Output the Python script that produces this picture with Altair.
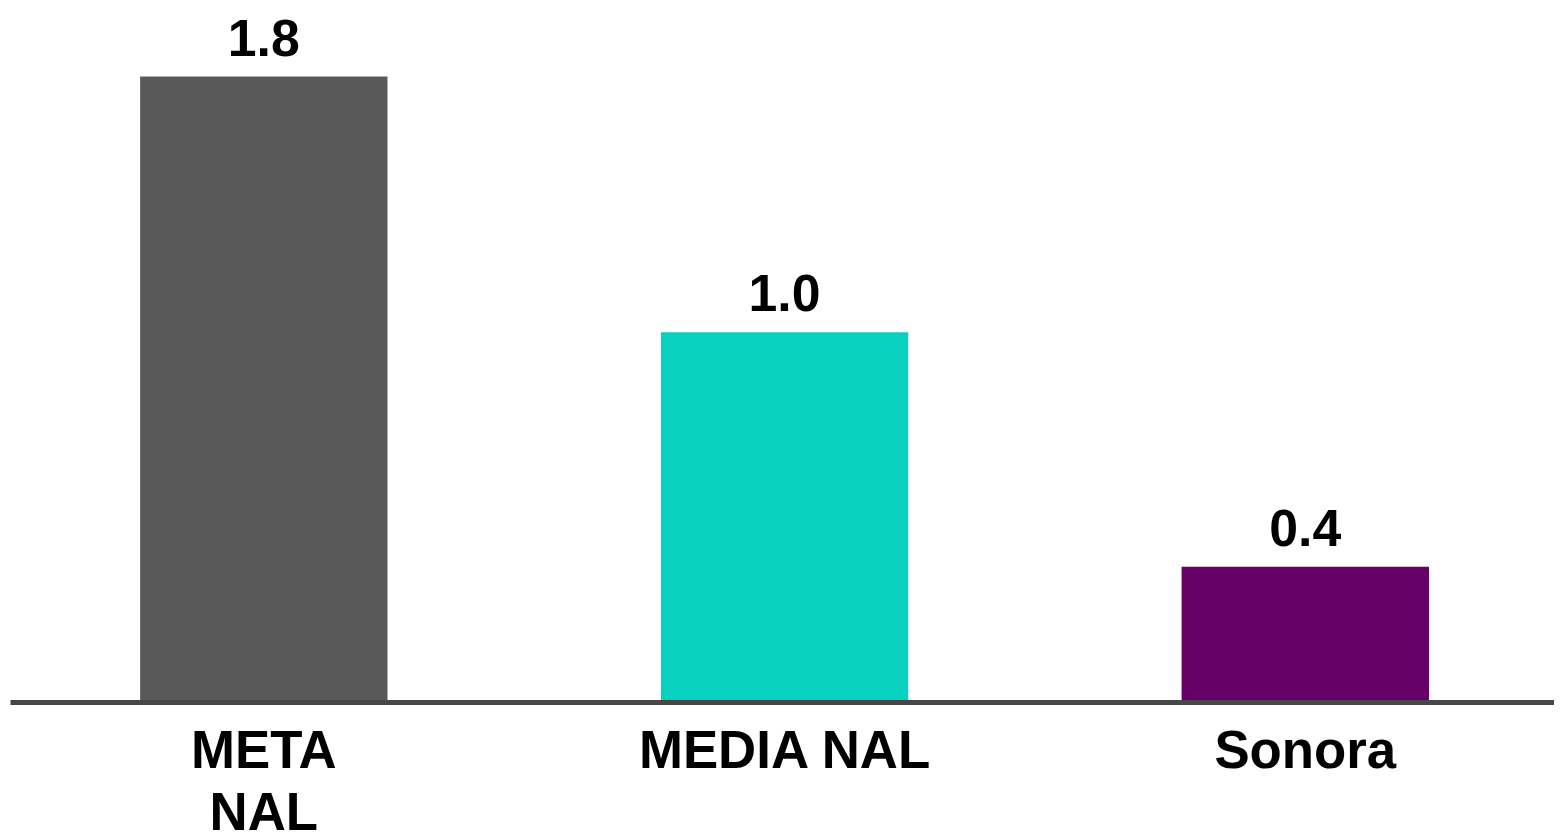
import altair as alt
import pandas as pd

categories = ["META NAL", "MEDIA NAL", "Sonora"]
values = [1.76, 1.04, 0.38]
colors = ["#595959", "#09D1C0", "#660066"]

df = pd.DataFrame({"cat": categories, "val": values, "col": colors})

x = alt.X(
    "cat:N",
    sort=categories,
    scale=alt.Scale(paddingInner=0.525, paddingOuter=0.245, align=0.51),
    axis=alt.Axis(
        title=None,
        ticks=False,
        labelAngle=0,
        labelFont="Liberation Sans",
        labelFontWeight="bold",
        labelFontSize=53,
        labelColor="#000000",
        labelPadding=24,
        labelLineHeight=62,
        labelLimit=0,
        labelExpr="datum.label == 'META NAL' ? ['META', 'NAL'] : datum.label",
        domainColor="#474747",
        domainWidth=5,
        zindex=1,
    ),
)
y = alt.Y("val:Q", scale=alt.Scale(domain=[0, 1.92], nice=False, zero=True), axis=None)

bars = alt.Chart(df).mark_bar().encode(
    x=x, y=y, color=alt.Color("col:N", scale=None, legend=None)
)
labels = alt.Chart(df).mark_text(
    font="Liberation Sans", fontWeight="bold", fontSize=52, color="#000000",
    baseline="alphabetic", dy=-21,
).encode(x=alt.X("cat:N", sort=categories), y=y, text=alt.Text("val:Q", format=".1f"))

chart = (
    alt.layer(bars, labels)
    .properties(width=1550, height=685, padding={"left": 2, "top": 10, "right": 0, "bottom": 131},
                autosize=alt.AutoSizeParams(type="none"), background="#ffffff")
    .configure_view(stroke=None)
)
chart.save("out.html", embed_options={"renderer": "svg", "actions": False})
